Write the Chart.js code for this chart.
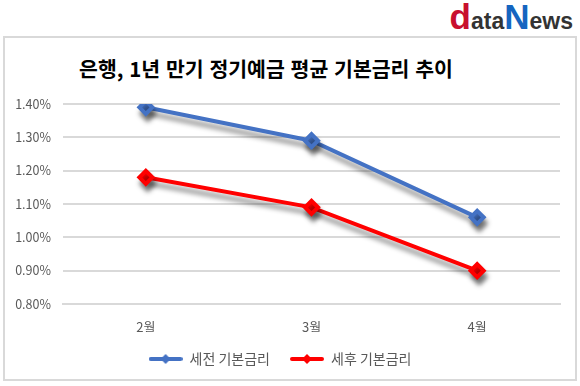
<!DOCTYPE html>
<html lang="ko">
<head>
<meta charset="utf-8">
<title>은행, 1년 만기 정기예금 평균 기본금리 추이</title>
<script src="https://cdn.jsdelivr.net/npm/chart.js@4/dist/chart.umd.min.js"></script>
<style>
  html, body { margin: 0; padding: 0; background: #fff; }
  body { width: 580px; height: 386px; position: relative; overflow: hidden; font-family: "Noto Sans CJK KR", "Noto Sans", sans-serif; }
  #frame { position: absolute; left: 3px; top: 36px; width: 574px; height: 345px; border: 2px solid #d9d9d9; box-sizing: border-box; }
  #title { position: absolute; left: 0; width: 532px; top: 53px; text-align: center; font-size: 20.5px; font-weight: bold; color: #000; }
  #logo { position: absolute; right: 7px; top: -3px; font-family: "Liberation Sans", Arial, sans-serif; font-weight: bold; white-space: nowrap; }
  #logo .big { font-size: 35px; }
  #logo .sm { font-size: 23px; color: #333; }
  #logo .d { color: #c8102e; }
  #logo .n { color: #1565c0; }
  #wrap { position: absolute; left: 0; top: 0; width: 580px; height: 386px; }
</style>
</head>
<body>
<div id="frame"></div>
<div id="logo"><span class="big d">d</span><span class="sm">ata</span><span class="big n">N</span><span class="sm">ews</span></div>
<div id="title">은행, 1년 만기 정기예금 평균 기본금리 추이</div>
<div id="wrap"><canvas id="rateChart"></canvas></div>
<script>
  // === Data ===
  const months = ["2월", "3월", "4월"];
  const beforeTax = [1.39, 1.29, 1.06];
  const afterTax = [1.18, 1.09, 0.90];
  const seriesNames = ["세전 기본금리", "세후 기본금리"];
  const seriesColors = ["#4472c4", "#ff0000"];
  const yTicks = [0.8, 0.9, 1.0, 1.1, 1.2, 1.3, 1.4];

  Chart.defaults.font.family = "'Noto Sans CJK KR', 'Noto Sans', sans-serif";
  Chart.defaults.color = "#595959";

  // legend marker: line with diamond
  function legendMarker(color) {
    const c = document.createElement("canvas");
    c.width = 34; c.height = 12;
    const g = c.getContext("2d");
    g.strokeStyle = color; g.lineWidth = 4; g.lineCap = "round";
    g.beginPath(); g.moveTo(2, 6); g.lineTo(32, 6); g.stroke();
    g.fillStyle = color;
    g.beginPath(); g.moveTo(17, 1); g.lineTo(22, 6); g.lineTo(17, 11); g.lineTo(12, 6); g.closePath(); g.fill();
    return c;
  }

  // gray drop shadow under the lines
  const lineShadow = {
    id: "lineShadow",
    beforeDatasetsDraw(chart) {
      const ctx = chart.ctx;
      ctx.save();
      ctx.shadowColor = "rgba(0,0,0,0.45)";
      ctx.shadowBlur = 5;
      ctx.shadowOffsetX = 2;
      ctx.shadowOffsetY = 6;
    },
    afterDatasetsDraw(chart) {
      chart.ctx.restore();
    }
  };

  const mkSet = (i, data) => ({
    label: seriesNames[i],
    data: data,
    borderColor: seriesColors[i],
    backgroundColor: seriesColors[i],
    borderWidth: 4,
    pointStyle: "rectRot",
    pointRadius: 6.5,
    pointHoverRadius: 6.5,
    tension: 0
  });

  new Chart(document.getElementById("rateChart"), {
    type: "line",
    data: {
      labels: months,
      datasets: [mkSet(0, beforeTax), mkSet(1, afterTax)]
    },
    options: {
      responsive: true,
      maintainAspectRatio: false,
      animation: false,
      layout: { padding: { top: 104, right: 20, left: 0, bottom: 10 } },
      plugins: {
        tooltip: { enabled: false },
        legend: {
          position: "bottom",
          labels: {
            usePointStyle: true,
            pointStyleWidth: 34,
            padding: 20,
            color: "#595959",
            font: { size: 14 },
            generateLabels(chart) {
              const items = Chart.defaults.plugins.legend.labels.generateLabels(chart);
              items.forEach((it, i) => { it.pointStyle = legendMarker(seriesColors[i]); });
              return items;
            }
          }
        }
      },
      scales: {
        x: {
          offset: true,
          grid: { display: false, drawTicks: false },
          border: { display: true, color: "#d9d9d9", width: 2 },
          ticks: { padding: 15, font: { size: 13 }, maxRotation: 0, autoSkip: false },
          afterFit(s) { s.height = 28; }
        },
        y: {
          min: 0.8,
          max: 1.4,
          afterBuildTicks(s) { s.ticks = yTicks.map(v => ({ value: v })); },
          grid: { color: "#d9d9d9", lineWidth: 2, drawTicks: false },
          border: { display: false },
          ticks: {
            padding: 12,
            font: { size: 12.5 },
            callback: v => v.toFixed(2) + "%"
          },
          afterFit(s) { s.width = 63; }
        }
      }
    },
    plugins: [lineShadow]
  });
</script>
</body>
</html>
